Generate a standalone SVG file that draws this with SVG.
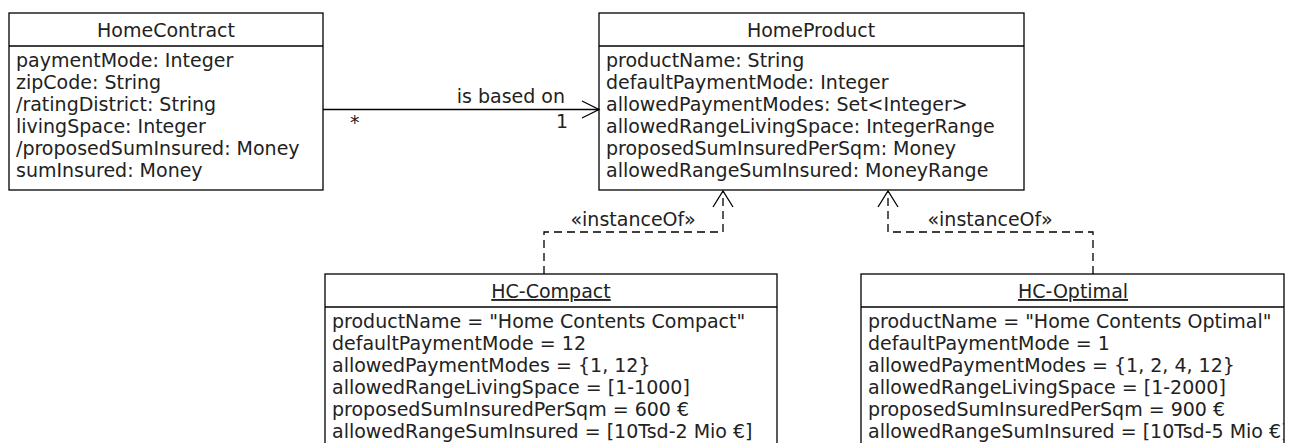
<svg xmlns="http://www.w3.org/2000/svg" width="1295" height="443" viewBox="0 0 1295 443">
<style>
text{font-family:"DejaVu Sans",sans-serif;font-size:19px;fill:#222}
.t{text-anchor:middle}
.box{fill:#fff;stroke:#000;stroke-width:1.3}
.div{stroke:#000;stroke-width:1.3}
.c{fill:none;stroke:#000;stroke-width:1.3}
.d{fill:none;stroke:#000;stroke-width:1.3;stroke-dasharray:8,5}
</style>
<defs>
<clipPath id="clipOpt"><rect x="861" y="274" width="423" height="180"/></clipPath>
</defs>
<g id="HomeContract">
<rect class="box" x="9" y="13" width="314" height="177"/>
<line class="div" x1="9" y1="46" x2="323" y2="46"/>
<text class="t" x="166" y="37">HomeContract</text>
<text x="16" y="67">paymentMode: Integer</text>
<text x="16" y="89">zipCode: String</text>
<text x="16" y="111">/ratingDistrict: String</text>
<text x="16" y="133">livingSpace: Integer</text>
<text x="16" y="155">/proposedSumInsured: Money</text>
<text x="16" y="177">sumInsured: Money</text>
</g>
<g id="HomeProduct">
<rect class="box" x="599" y="13" width="425" height="177"/>
<line class="div" x1="599" y1="46" x2="1024" y2="46"/>
<text class="t" x="811" y="37">HomeProduct</text>
<text x="606" y="67">productName: String</text>
<text x="606" y="89">defaultPaymentMode: Integer</text>
<text x="606" y="111">allowedPaymentModes: Set&lt;Integer&gt;</text>
<text x="606" y="133">allowedRangeLivingSpace: IntegerRange</text>
<text x="606" y="155">proposedSumInsuredPerSqm: Money</text>
<text x="606" y="177">allowedRangeSumInsured: MoneyRange</text>
</g>
<g id="HC-Compact">
<rect class="box" x="325" y="274" width="452" height="180"/>
<line class="div" x1="325" y1="307" x2="777" y2="307"/>
<text class="t" x="551" y="298" text-decoration="underline">HC-Compact</text>
<text x="332" y="328">productName = "Home Contents Compact"</text>
<text x="332" y="350">defaultPaymentMode = 12</text>
<text x="332" y="372">allowedPaymentModes = {1, 12}</text>
<text x="332" y="394">allowedRangeLivingSpace = [1-1000]</text>
<text x="332" y="416">proposedSumInsuredPerSqm = 600 €</text>
<text x="332" y="438">allowedRangeSumInsured = [10Tsd-2 Mio €]</text>
</g>
<g id="HC-Optimal">
<rect class="box" x="861" y="274" width="423" height="180"/>
<line class="div" x1="861" y1="307" x2="1284" y2="307"/>
<text class="t" x="1073" y="298" text-decoration="underline">HC-Optimal</text>
<g clip-path="url(#clipOpt)">
<text x="868" y="328">productName = "Home Contents Optimal"</text>
<text x="868" y="350">defaultPaymentMode = 1</text>
<text x="868" y="372">allowedPaymentModes = {1, 2, 4, 12}</text>
<text x="868" y="394">allowedRangeLivingSpace = [1-2000]</text>
<text x="868" y="416">proposedSumInsuredPerSqm = 900 €</text>
<text x="868" y="438">allowedRangeSumInsured = [10Tsd-5 Mio €]</text>
</g>
</g>
<g id="connectors">
<line class="c" x1="323" y1="109.5" x2="599" y2="109.5"/>
<polyline class="c" points="582,101 599,109.5 582,118"/>
<text x="565" y="103" text-anchor="end">is based on</text>
<text x="350" y="129">*</text>
<text x="568" y="128" text-anchor="end">1</text>
<polyline class="d" points="544,274 544,232 723,232 723,192"/>
<polyline class="c" points="713,207 723,191 733,207"/>
<text class="t" x="633" y="226">«instanceOf»</text>
<polyline class="d" points="1093,274 1093,232 888,232 888,192"/>
<polyline class="c" points="878,207 888,191 898,207"/>
<text class="t" x="990" y="226">«instanceOf»</text>
</g>
</svg>
